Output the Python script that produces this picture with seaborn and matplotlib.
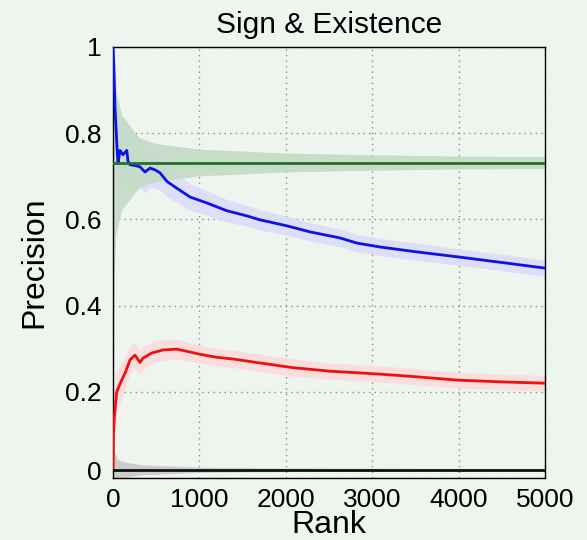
import numpy as np
import pandas as pd
import matplotlib
matplotlib.use("Agg")
import matplotlib.pyplot as plt
import matplotlib.transforms as mtransforms
import seaborn as sns

# Precision at each rank for the four rankings
blue_rank = [1, 10, 23, 43, 58, 81, 116, 159, 174, 197, 255, 312, 370, 428, 486, 544,
             625, 741, 891, 1088, 1319, 1551, 1701, 2014, 2280, 2627, 2824, 3090,
             3500, 3993, 4500, 5000]
blue_prec = [1.0, 0.95, 0.86, 0.78, 0.73, 0.76, 0.75, 0.76, 0.735, 0.727, 0.725, 0.722,
             0.71, 0.719, 0.715, 0.708, 0.688, 0.672, 0.652, 0.638, 0.62, 0.608, 0.599,
             0.585, 0.571, 0.557, 0.545, 0.536, 0.525, 0.513, 0.50, 0.487]
blue_err = [0.2, 0.15, 0.12, 0.1, 0.09, 0.08, 0.075, 0.07, 0.065, 0.06, 0.055, 0.05,
            0.048, 0.045, 0.042, 0.04, 0.036, 0.033, 0.031, 0.028, 0.026, 0.024, 0.023,
            0.022, 0.021, 0.021, 0.02, 0.02, 0.02, 0.019, 0.019, 0.019]

red_rank = [1, 5, 15, 43, 100, 139, 197, 255, 312, 347, 448, 579, 737, 853, 1007,
            1200, 1389, 1663, 2083, 2500, 3090, 3500, 3993, 4500, 5000]
red_prec = [0.02, 0.10, 0.14, 0.20, 0.227, 0.243, 0.274, 0.285, 0.268, 0.278, 0.29,
            0.297, 0.299, 0.294, 0.287, 0.28, 0.276, 0.268, 0.256, 0.248, 0.241,
            0.235, 0.227, 0.223, 0.22]
red_err = [0.1, 0.08, 0.07, 0.05, 0.04, 0.035, 0.032, 0.03, 0.028, 0.027, 0.025, 0.024,
           0.023, 0.022, 0.021, 0.021, 0.02, 0.02, 0.02, 0.019, 0.019, 0.019, 0.018,
           0.018, 0.018]

green_rank = [1, 10, 30, 100, 300, 500, 1000, 2000, 3000, 4000, 5000]
green_prec = [0.732, 0.732, 0.732, 0.732, 0.732, 0.732, 0.732, 0.732, 0.732, 0.732, 0.732]
green_err = [0.6, 0.3, 0.17, 0.11, 0.058, 0.044, 0.031, 0.022, 0.018, 0.015, 0.014]

black_rank = [1, 10, 50, 100, 300, 1000, 2000, 5000]
black_prec = [0.019, 0.019, 0.019, 0.019, 0.019, 0.019, 0.019, 0.019]
black_err = [0.1, 0.045, 0.025, 0.02, 0.012, 0.006, 0.004, 0.003]

x_ticks = [0, 1000, 2000, 3000, 4000, 5000]
y_ticks = [0, 0.2, 0.4, 0.6, 0.8, 1.0]
y_tick_labels = ["0", "0.2", "0.4", "0.6", "0.8", "1"]

bg = "#eef5ee"
sns.set_theme(style="white")
plt.rcParams["font.family"] = ["Liberation Sans", "DejaVu Sans"]

fig = plt.figure(figsize=(5.87, 5.40), dpi=100, facecolor=bg)
ax = fig.add_axes([113 / 587, 1 - 478 / 540, 432 / 587, 431 / 540])
ax.set_facecolor(bg)

series = [
    ("green", green_rank, green_prec, green_err, "#23702a", "#c4dbc4"),
    ("blue", blue_rank, blue_prec, blue_err, "#0a14e6", "#dcdcfa"),
    ("red", red_rank, red_prec, red_err, "#f01010", "#fbdcdc"),
    ("black", black_rank, black_prec, black_err, "#111111", "#c8c8c8"),
]

# confidence bands first, green band laid over the blue one
for name, r, p, e, line_c, band_c in [series[1], series[0], series[2], series[3]]:
    lo = np.clip(np.array(p) - np.array(e), 0, 1)
    hi = np.clip(np.array(p) + np.array(e), 0, 1)
    ax.fill_between(r, lo, hi, color=band_c, linewidth=0, alpha=0.9, zorder=1)

frames = []
for name, r, p, e, line_c, band_c in series:
    frames.append(pd.DataFrame({"rank": r, "precision": p, "method": name}))
df = pd.concat(frames, ignore_index=True)

palette = {name: line_c for name, r, p, e, line_c, band_c in series}
for name in ["blue", "red", "black", "green"]:
    sns.lineplot(data=df[df.method == name], x="rank", y="precision",
                 color=palette[name], linewidth=2, ax=ax, legend=False,
                 zorder=3, estimator=None, sort=False)

ax.set_xlim(0, 5000)
ax.set_ylim(0, 1)
ax.set_xticks(x_ticks)
ax.set_xticklabels([str(t) for t in x_ticks])
ax.set_yticks(y_ticks)
ax.set_yticklabels(y_tick_labels)

ax.grid(True, linestyle=(0, (1, 3)), color="#8a8a8a", linewidth=1.0)
ax.set_axisbelow(True)
for sp in ax.spines.values():
    sp.set_visible(True)
    sp.set_color("black")
    sp.set_linewidth(1.0)

ax.tick_params(axis="both", direction="in", length=6.5, width=1.0,
               color="black", labelsize=19, labelcolor="black")
ax.tick_params(axis="x", pad=7)
ax.tick_params(axis="y", pad=8)

# lift the zero label on the y axis off the x axis labels
for lab in ax.get_yticklabels():
    if lab.get_text() == "0":
        lab.set_transform(lab.get_transform() +
                          mtransforms.ScaledTranslation(0, 8 / 100, fig.dpi_scale_trans))

ax.set_xlabel("Rank", fontsize=23, color="black", labelpad=-1)
ax.set_ylabel("Precision", fontsize=23, color="black", labelpad=11.5)
ax.set_title("Sign & Existence", fontsize=21.5, color="black", pad=10)

fig.savefig("out.png", dpi=100, facecolor=bg)
